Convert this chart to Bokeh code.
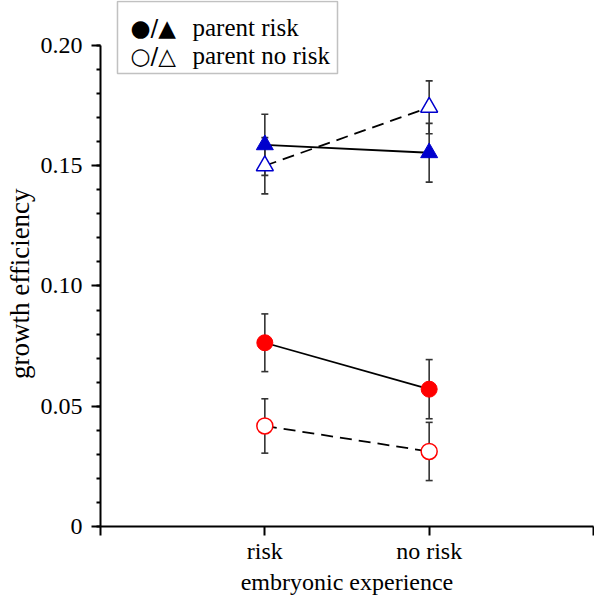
from bokeh.plotting import figure
from bokeh.models import (Range1d, FixedTicker, ColumnDataSource, Whisker, TeeHead, Label,
                          BoxAnnotation)
from bokeh.embed import file_html
from bokeh.resources import INLINE

# ---- data ----
categories = ["risk", "no risk"]
circle_parent_risk = [0.0764, 0.0571]
circle_parent_risk_err = [0.0120, 0.0123]
circle_parent_norisk = [0.0418, 0.0312]
circle_parent_norisk_err = [0.0113, 0.0121]
tri_parent_risk = [0.1587, 0.1554]
tri_parent_risk_err = [0.0127, 0.0122]
tri_parent_norisk = [0.1500, 0.1743]
tri_parent_norisk_err = [0.0117, 0.0110]

y_ticks = [0, 0.05, 0.10, 0.15, 0.20]
y_tick_labels = ["0", "0.05", "0.10", "0.15", "0.20"]
y_minor = [0.01 * i for i in range(21)]
x_ticks = [0, 1, 2, 3]
x_tick_labels = ["", "risk", "no risk", ""]

legend_symbols = ["\u25cf/\u25b2", "\u25cb/\u25b3"]
legend_texts = ["parent risk", "parent no risk"]

FONT = "Liberation Serif"
RED = "#ff0000"
BLUE = "#0000cd"

xpos = [i + 1 for i in range(len(categories))]

# frame spans y 0..526 px; the y axis itself is bounded to 0..0.20 (leaves room for legend)
p = figure(width=594, height=605, x_range=Range1d(0, 3), y_range=Range1d(0, 0.21871),
           output_backend="svg", toolbar_location=None,
           min_border_left=100, min_border_right=1, min_border_top=0, min_border_bottom=79)
p.outline_line_color = None
p.xgrid.visible = False
p.ygrid.visible = False
p.background_fill_color = "white"
p.border_fill_color = "white"

# axes
for ax in (p.xaxis[0], p.yaxis[0]):
    ax.axis_line_color = "black"
    ax.axis_line_width = 2
    ax.major_tick_line_color = "black"
    ax.major_tick_line_width = 2
    ax.major_tick_in = 0
    ax.major_tick_out = 9
    ax.major_label_text_font = FONT
    ax.major_label_text_font_size = "24px"
    ax.major_label_text_color = "black"
    ax.axis_label_text_font = FONT
    ax.axis_label_text_font_size = "24px"
    ax.axis_label_text_font_style = "normal"
    ax.axis_label_text_color = "black"

p.xaxis.ticker = FixedTicker(ticks=x_ticks)
p.xaxis.major_label_overrides = {t: l for t, l in zip(x_ticks, x_tick_labels)}
p.xaxis.minor_tick_line_color = None
p.xaxis.major_label_standoff = 2
p.xaxis.axis_label = "embryonic experience"
p.xaxis.axis_label_standoff = 2

p.yaxis.bounds = (0, 0.2)
p.yaxis.ticker = FixedTicker(ticks=y_ticks, minor_ticks=y_minor)
p.yaxis.major_label_overrides = {t: l for t, l in zip(y_ticks, y_tick_labels)}
p.yaxis.minor_tick_line_color = "black"
p.yaxis.minor_tick_line_width = 2
p.yaxis.minor_tick_in = 0
p.yaxis.minor_tick_out = 4
p.yaxis.major_label_standoff = 9
# trailing no-break spaces re-centre the label on the 0..0.20 axis span
p.yaxis.axis_label = "growth efficiency" + "\u00a0" * 6
p.yaxis.axis_label_text_font_size = "27px"
p.yaxis.axis_label_standoff = 3

series = [
    (circle_parent_risk, circle_parent_risk_err, "circle", RED, RED, "solid"),
    (circle_parent_norisk, circle_parent_norisk_err, "circle", "white", RED, "12 7"),
    (tri_parent_risk, tri_parent_risk_err, "triangle", BLUE, BLUE, "solid"),
    (tri_parent_norisk, tri_parent_norisk_err, "triangle", "white", BLUE, "12 7"),
]

# error bars
for vals, errs, *_ in series:
    src = ColumnDataSource(dict(x=xpos, upper=[v + e for v, e in zip(vals, errs)],
                                lower=[v - e for v, e in zip(vals, errs)]))
    w = Whisker(source=src, base="x", upper="upper", lower="lower", dimension="height",
                line_color="#333333", line_width=1.6, level="underlay",
                upper_head=TeeHead(size=7, line_color="#333333", line_width=1.6),
                lower_head=TeeHead(size=7, line_color="#333333", line_width=1.6))
    p.add_layout(w)

# connecting lines
for vals, errs, marker, fill, line, dash in series:
    p.line(xpos, vals, line_color="black", line_width=1.8, line_dash=dash)

# markers
for vals, errs, marker, fill, line, dash in series:
    size = 16 if marker == "circle" else 17
    lw = 1.5 if fill == "white" else 1
    p.scatter(xpos, vals, marker=marker, size=size, fill_color=fill, line_color=line,
              line_width=lw)

# legend box
box = BoxAnnotation(left=0.1034, right=1.4422, top=0.2183, bottom=0.18836,
                    fill_color="white", fill_alpha=1.0,
                    line_color="#333333", line_width=1.5, level="annotation")
p.add_layout(box)
baselines = [0.20748, 0.19584]
for sym, txt, yb in zip(legend_symbols, legend_texts, baselines):
    p.add_layout(Label(x=0.1826, y=yb, text=sym, text_font="DejaVu Sans",
                       text_font_size="23px",
                       text_align="left", text_baseline="alphabetic", text_color="black",
                       level="overlay"))
    p.add_layout(Label(x=0.5598, y=yb, text=txt, text_font=FONT, text_font_size="25px",
                       text_align="left", text_baseline="alphabetic", text_color="black",
                       level="overlay"))

open("out.html", "w").write(file_html(p, INLINE))
